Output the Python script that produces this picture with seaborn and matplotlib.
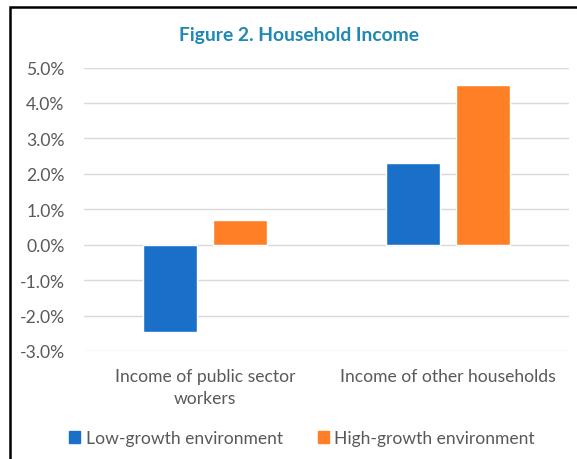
import matplotlib
matplotlib.use("Agg")
import matplotlib.pyplot as plt
import matplotlib.patches as mpatches
import seaborn as sns
import pandas as pd

categories = ["Income of public sector\nworkers", "Income of other households"]
series_names = ["Low-growth environment", "High-growth environment"]
low_growth = [-2.45, 2.3]
high_growth = [0.7, 4.5]
y_ticks = [-3, -2, -1, 0, 1, 2, 3, 4, 5]
colors = ["#1A70C8", "#FF7F27"]

df = pd.DataFrame({
    "category": categories * 2,
    "series": [series_names[0]] * 2 + [series_names[1]] * 2,
    "value": low_growth + high_growth,
})

sns.set_theme(style="white")
plt.rcParams["font.family"] = ["Lato", "DejaVu Sans"]

fig = plt.figure(figsize=(5.77, 4.60), dpi=100)
ax = fig.add_axes([84/577, 1-352/460, (569-84)/577, (352-68.5)/460])

sns.barplot(data=df, x="category", y="value", hue="series", order=categories,
            hue_order=series_names, palette=colors, width=0.577, gap=0.228,
            saturation=1, ax=ax, legend=False, zorder=3)

ax.set_ylim(-3, 5)
ax.set_xlim(-0.5, 1.5)
ax.set_yticks(y_ticks)
ax.set_yticklabels([f"{v:.1f}%" for v in y_ticks], color="#595959", fontsize=12.6)
ax.tick_params(axis="y", length=0, pad=14)
ax.tick_params(axis="x", length=0, pad=12, labelsize=12.6, labelcolor="#595959")
for lbl in ax.get_xticklabels():
    lbl.set_linespacing(1.45)
ax.set_xlabel("")
ax.set_ylabel("")
ax.grid(axis="y", color="#D9D9D9", linewidth=1, zorder=0)
ax.set_axisbelow(True)
for s in ax.spines.values():
    s.set_visible(False)

fig.text(299/577, 1-36/460, "Figure 2. Household Income", ha="center", va="center",
         fontsize=13.9, fontweight="bold", color="#1F88B3")

handles = [mpatches.Patch(color=c, label=n) for c, n in zip(colors, series_names)]
fig.legend(handles=handles, loc="center", bbox_to_anchor=(302/577, 1-439/460), ncol=2,
           frameon=False, fontsize=12.6, handlelength=0.65, handleheight=0.65,
           handletextpad=0.3, columnspacing=2.0, labelcolor="#595959")

border = mpatches.Rectangle((10/577, -0.2), 1.5, 1-8/460+0.2, transform=fig.transFigure,
                            fill=False, edgecolor="black", linewidth=1.8, clip_on=False)
fig.patches.append(border)

fig.savefig("out.png", dpi=100)
